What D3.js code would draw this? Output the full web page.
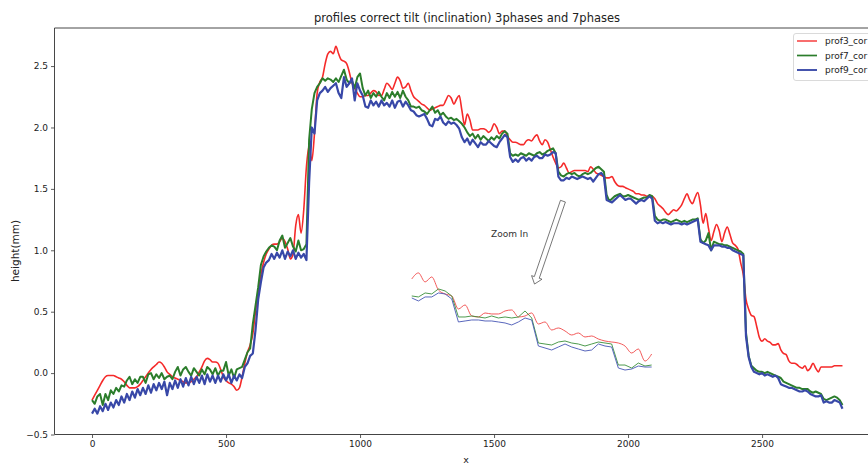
<!DOCTYPE html>
<html><head><meta charset="utf-8">
<script src="https://cdn.jsdelivr.net/npm/d3@7/dist/d3.min.js"></script>
<style>body{margin:0;background:#fff}svg{display:block}text{font-family:"DejaVu Sans",sans-serif}</style>
</head><body><svg id="c" width="868" height="464"></svg>
<script>
// ---------------- data ----------------
const xStep = 10; // sample spacing along x
const prof3 = [
-0.22,-0.18,-0.14,-0.10,-0.06,-0.03,-0.02,-0.02,-0.02,-0.03,
-0.04,-0.05,-0.07,-0.10,-0.12,-0.12,-0.12,-0.11,-0.09,-0.06,
-0.03,0.00,0.03,0.05,0.07,0.09,0.08,0.05,0.01,-0.01,
-0.03,-0.04,-0.05,-0.06,-0.07,-0.08,-0.08,-0.07,-0.05,-0.03,
0.01,0.05,0.10,0.12,0.11,0.09,0.09,0.08,0.03,-0.03,
-0.06,-0.08,-0.09,-0.11,-0.14,-0.12,-0.03,0.08,0.17,0.23,
0.32,0.50,0.65,0.80,0.90,0.97,1.01,1.04,1.05,1.05,
1.07,1.10,1.07,1.01,0.93,0.97,1.20,1.29,1.14,1.33,
1.68,1.85,1.73,1.95,2.28,2.37,2.41,2.52,2.60,2.62,
2.60,2.66,2.60,2.55,2.54,2.52,2.45,2.36,2.32,2.28,
2.25,2.25,2.26,2.26,2.28,2.30,2.29,2.26,2.26,2.31,
2.36,2.34,2.31,2.36,2.41,2.38,2.32,2.33,2.36,2.30,
2.25,2.23,2.21,2.19,2.18,2.16,2.14,2.15,2.16,2.17,
2.18,2.18,2.22,2.26,2.24,2.19,2.23,2.26,2.14,2.02,
2.11,2.06,1.98,1.98,1.98,1.99,1.99,1.98,1.96,1.98,
2.03,2.00,1.95,1.97,1.97,1.93,1.90,1.88,1.88,1.87,
1.86,1.86,1.89,1.90,1.89,1.92,1.94,1.89,1.86,1.90,
1.88,1.82,1.76,1.71,1.67,1.68,1.71,1.67,1.63,1.64,
1.65,1.65,1.65,1.65,1.65,1.64,1.68,1.66,1.63,1.62,
1.61,1.60,1.59,1.59,1.60,1.56,1.53,1.52,1.52,1.51,
1.50,1.49,1.48,1.46,1.46,1.45,1.45,1.44,1.44,1.44,
1.42,1.38,1.36,1.34,1.31,1.29,1.31,1.33,1.32,1.34,
1.37,1.42,1.46,1.41,1.38,1.43,1.47,1.37,1.22,1.30,
1.18,1.08,1.15,1.21,1.16,1.07,1.14,1.19,1.13,1.06,
1.04,1.01,0.90,0.80,0.60,0.52,0.47,0.46,0.38,0.29,
0.26,0.28,0.26,0.25,0.23,0.23,0.24,0.19,0.16,0.15,
0.10,0.08,0.08,0.07,0.05,0.04,0.06,0.02,0.04,0.08,
0.04,0.01,0.05,0.05,0.05,0.05,0.05,0.06,0.06,0.06,
0.06];
const prof7 = [
-0.22,-0.25,-0.19,-0.17,-0.26,-0.17,-0.22,-0.14,-0.17,-0.12,
-0.15,-0.10,-0.11,-0.06,-0.03,-0.09,-0.05,-0.08,-0.03,-0.03,
-0.08,-0.01,0.00,-0.05,-0.01,-0.04,0.00,-0.05,-0.03,-0.02,
-0.05,0.01,0.05,-0.02,0.03,0.05,0.01,-0.02,0.04,0.01,
-0.02,0.03,-0.01,0.05,0.03,-0.01,0.04,-0.02,0.02,0.02,
0.09,-0.02,0.03,-0.04,0.03,0.04,0.05,0.11,0.17,0.20,
0.40,0.55,0.70,0.88,0.95,0.99,1.02,1.04,1.03,1.00,
1.08,1.12,1.02,1.06,1.10,1.03,0.99,1.08,1.00,1.01,
1.05,1.90,2.15,2.28,2.33,2.36,2.40,2.38,2.40,2.39,
2.37,2.40,2.37,2.42,2.47,2.39,2.36,2.38,2.32,2.41,
2.44,2.32,2.26,2.30,2.24,2.28,2.25,2.29,2.25,2.22,
2.28,2.24,2.29,2.25,2.29,2.24,2.30,2.25,2.22,2.17,
2.17,2.16,2.17,2.14,2.13,2.11,2.14,2.17,2.12,2.14,
2.10,2.12,2.09,2.07,2.08,2.06,2.07,2.05,2.03,2.00,
1.96,1.93,1.95,1.91,1.94,1.90,1.93,1.91,1.89,1.92,
1.90,1.93,1.91,1.95,1.97,1.95,1.79,1.77,1.78,1.77,
1.79,1.78,1.77,1.79,1.78,1.77,1.79,1.80,1.78,1.79,
1.81,1.82,1.83,1.79,1.64,1.61,1.60,1.62,1.63,1.62,
1.63,1.61,1.60,1.62,1.63,1.62,1.63,1.65,1.67,1.68,
1.66,1.64,1.45,1.40,1.42,1.44,1.45,1.46,1.44,1.44,
1.45,1.44,1.43,1.42,1.41,1.42,1.43,1.43,1.45,1.44,
1.28,1.25,1.24,1.25,1.25,1.24,1.23,1.24,1.25,1.24,
1.23,1.24,1.23,1.24,1.25,1.25,1.26,1.09,1.06,1.08,
1.14,1.00,1.07,1.06,1.05,1.05,1.04,1.04,1.03,1.02,
1.01,1.00,0.99,0.97,0.33,0.14,0.06,0.04,0.02,0.01,
0.01,0.00,0.01,0.00,-0.01,-0.02,-0.03,-0.04,-0.07,-0.08,
-0.09,-0.10,-0.11,-0.12,-0.12,-0.13,-0.13,-0.13,-0.15,-0.16,
-0.15,-0.16,-0.17,-0.21,-0.22,-0.21,-0.20,-0.19,-0.20,-0.22,
-0.26];
const prof9 = [
-0.33,-0.29,-0.33,-0.27,-0.31,-0.25,-0.30,-0.24,-0.28,-0.22,
-0.26,-0.19,-0.24,-0.17,-0.22,-0.15,-0.20,-0.13,-0.18,-0.12,
-0.17,-0.10,-0.16,-0.09,-0.14,-0.08,-0.13,-0.07,-0.18,-0.08,
-0.13,-0.06,-0.12,-0.05,-0.11,-0.04,-0.10,-0.03,-0.09,-0.03,
-0.08,-0.02,-0.09,-0.01,-0.07,-0.02,-0.08,-0.02,-0.07,-0.01,
-0.06,-0.01,-0.08,-0.02,-0.06,-0.01,-0.04,0.05,0.08,0.14,
0.16,0.35,0.60,0.74,0.86,0.90,0.92,0.97,0.93,0.98,
0.94,1.00,0.93,0.99,0.95,1.00,0.93,0.98,0.94,0.97,
0.92,1.55,2.00,1.95,2.22,2.28,2.30,2.33,2.29,2.32,
2.34,2.36,2.28,2.24,2.41,2.33,2.36,2.40,2.22,2.36,
2.30,2.26,2.17,2.16,2.22,2.18,2.21,2.17,2.22,2.18,
2.20,2.17,2.22,2.16,2.21,2.22,2.17,2.21,2.18,2.14,
2.13,2.10,2.09,2.10,2.11,2.07,2.02,2.01,2.07,2.06,
2.09,2.04,2.02,2.05,2.03,2.04,2.02,1.99,1.92,1.88,
1.91,1.86,1.90,1.87,1.84,1.88,1.86,1.86,1.89,1.87,
1.85,1.84,1.88,1.91,1.94,1.92,1.76,1.72,1.74,1.72,
1.75,1.76,1.73,1.75,1.73,1.76,1.77,1.75,1.75,1.78,
1.77,1.78,1.80,1.79,1.60,1.57,1.57,1.59,1.58,1.60,
1.59,1.58,1.59,1.60,1.59,1.58,1.59,1.56,1.59,1.62,
1.63,1.60,1.41,1.40,1.39,1.41,1.43,1.45,1.43,1.41,
1.42,1.42,1.40,1.38,1.40,1.41,1.40,1.42,1.44,1.42,
1.24,1.22,1.23,1.22,1.23,1.22,1.21,1.22,1.22,1.22,
1.21,1.22,1.21,1.22,1.23,1.24,1.25,1.07,1.06,1.05,
1.04,1.00,1.04,1.04,1.04,1.03,1.03,1.02,1.02,1.00,
0.99,0.98,0.97,0.96,0.30,0.13,0.05,0.01,0.00,-0.01,
0.00,-0.02,-0.01,-0.02,-0.03,-0.02,-0.04,-0.09,-0.10,-0.11,
-0.12,-0.12,-0.13,-0.14,-0.15,-0.15,-0.14,-0.15,-0.17,-0.18,
-0.19,-0.19,-0.18,-0.24,-0.23,-0.24,-0.24,-0.22,-0.23,-0.24,
-0.29];
const seriesNames = ["prof3_cor", "prof7_cor", "prof9_cor"];
const xTicks = [0, 500, 1000, 1500, 2000, 2500];
const yTicks = [-0.5, 0.0, 0.5, 1.0, 1.5, 2.0, 2.5];
const titleText = "profiles correct tilt (inclination) 3phases and 7phases";
const xLabel = "x", yLabel = "height(mm)";
// "Zoom In" sketch (relative heights, one value per sample)
const insetRed   = [0.91,0.97,0.88,0.93,0.80,0.76,0.74,0.61,0.65,0.54,0.53,0.57,0.56,0.56,0.59,0.60,0.53,0.54,0.57,0.46,0.48,0.40,0.42,0.39,0.35,0.37,0.33,0.34,0.31,0.29,0.28,0.27,0.24,0.17,0.21,0.09,0.16];
const insetGreen = [0.74,0.73,0.77,0.76,0.81,0.79,0.74,0.53,0.53,0.54,0.53,0.52,0.54,0.52,0.53,0.52,0.53,0.59,0.52,0.27,0.26,0.25,0.28,0.29,0.27,0.26,0.24,0.26,0.28,0.27,0.26,0.05,0.05,0.02,0.07,0.04,0.05];
const insetBlue  = [0.72,0.69,0.73,0.73,0.77,0.76,0.71,0.48,0.49,0.50,0.50,0.49,0.49,0.48,0.47,0.45,0.48,0.52,0.50,0.24,0.22,0.20,0.23,0.26,0.23,0.21,0.19,0.20,0.26,0.24,0.23,0.02,0.00,0.01,0.04,0.03,0.03];
const annText = "Zoom In";
const annTextPos = [1558, 1.13];
const arrowFrom = [1757, 1.40], arrowTo = [1651, 0.725];
const insetXSpan = [1193, 2088], insetYSpan = [0.025, 0.84];

// ---------------- drawing ----------------
const colors = ["#f52a2a", "#2b7d2b", "#3848a8"];
const widths = [1.6, 2.0, 2.2];
const curves = [d3.curveMonotoneX, d3.curveLinear, d3.curveLinear];
const svg = d3.select("#c");
const W = 868, H = 464;
const x = d3.scaleLinear().domain([-140, 2940]).range([54.5, 880]);
const y = d3.scaleLinear().domain([-0.5, 2.81]).range([434.5, 28]);

svg.append("rect").attr("width", W).attr("height", H).attr("fill", "#fff");

const clip = svg.append("defs").append("clipPath").attr("id", "pc");
clip.append("rect").attr("x", 54.5).attr("y", 28).attr("width", 880 - 54.5).attr("height", 434.5 - 28);

const plot = svg.append("g").attr("clip-path", "url(#pc)");
[prof3, prof7, prof9].forEach((s, k) => {
  const line = d3.line().x((d, i) => x(i * xStep)).y(d => y(d)).curve(curves[k]);
  plot.append("path").datum(s).attr("d", line).attr("fill", "none")
    .attr("stroke", colors[k]).attr("stroke-width", widths[k]).attr("stroke-linejoin", "round");
});

// inset sketch
const ix = d3.scaleLinear().domain([0, insetRed.length - 1]).range([x(insetXSpan[0]), x(insetXSpan[1])]);
const iy = d3.scaleLinear().domain([0, 1]).range([y(insetYSpan[0]), y(insetYSpan[1])]);
const insetColors = ["#f04848", "#3a8f3a", "#4656b4"];
[insetRed, insetGreen, insetBlue].forEach((s, k) => {
  const iline = d3.line().x((d, i) => ix(i)).y(d => iy(d)).curve(k === 0 ? d3.curveMonotoneX : d3.curveLinear);
  plot.append("path").datum(s).attr("d", iline).attr("fill", "none")
    .attr("stroke", insetColors[k]).attr("stroke-width", 0.9);
});

// annotation
plot.append("text").attr("x", x(annTextPos[0])).attr("y", y(annTextPos[1]))
  .attr("text-anchor", "middle").attr("dominant-baseline", "central")
  .attr("font-size", 9).attr("fill", "#333").text(annText);
(function () {
  const x0 = x(arrowFrom[0]), y0 = y(arrowFrom[1]), x1 = x(arrowTo[0]), y1 = y(arrowTo[1]);
  const dx = x1 - x0, dy = y1 - y0, L = Math.hypot(dx, dy);
  const ux = dx / L, uy = dy / L, px = -uy, py = ux;
  const sw = 2.6, hw = 5.5, hl = 7;
  const bx = x1 - ux * hl, by = y1 - uy * hl;
  const pts = [
    [x0 + px * sw, y0 + py * sw], [bx + px * sw, by + py * sw], [bx + px * hw, by + py * hw],
    [x1, y1], [bx - px * hw, by - py * hw], [bx - px * sw, by - py * sw], [x0 - px * sw, y0 - py * sw]
  ];
  plot.append("path").attr("d", "M" + pts.map(p => p.join(",")).join("L") + "Z")
    .attr("fill", "#fff").attr("stroke", "#555").attr("stroke-width", 0.8);
})();

// axes
const gx = svg.append("g").attr("transform", "translate(0,434.5)")
  .call(d3.axisBottom(x).tickValues(xTicks).tickFormat(d3.format("d")).tickSize(3.5).tickPadding(3));
const gy = svg.append("g").attr("transform", "translate(54.5,0)")
  .call(d3.axisLeft(y).tickValues(yTicks).tickFormat(d3.format(".1f")).tickSize(3.5).tickPadding(3));
[gx, gy].forEach(g => {
  g.select(".domain").remove();
  g.selectAll(".tick line").attr("stroke", "#333").attr("stroke-width", 0.8);
  g.selectAll(".tick text").attr("font-size", 9).attr("fill", "#222").attr("font-family", "DejaVu Sans");
});
// spines
svg.append("line").attr("x1", 54.5).attr("x2", 54.5).attr("y1", 28).attr("y2", 434.5).attr("stroke", "#333").attr("stroke-width", 0.9);
svg.append("line").attr("x1", 54.5).attr("x2", 880).attr("y1", 434.5).attr("y2", 434.5).attr("stroke", "#444").attr("stroke-width", 1.2);
svg.append("line").attr("x1", 54.5).attr("x2", 880).attr("y1", 28).attr("y2", 28).attr("stroke", "#333").attr("stroke-width", 0.9);

// labels
svg.append("text").attr("x", 467).attr("y", 18).attr("text-anchor", "middle").attr("dominant-baseline", "central")
  .attr("font-size", 11.5).attr("fill", "#222").text(titleText);
svg.append("text").attr("x", 466).attr("y", 459).attr("text-anchor", "middle").attr("dominant-baseline", "central")
  .attr("font-size", 9.5).attr("fill", "#222").text(xLabel);
svg.append("text").attr("transform", "translate(15,251) rotate(-90)").attr("text-anchor", "middle")
  .attr("dominant-baseline", "central").attr("font-size", 10.5).attr("fill", "#222").text(yLabel);

// legend
const lg = svg.append("g");
lg.append("rect").attr("x", 793.5).attr("y", 33.5).attr("width", 120).attr("height", 47).attr("rx", 2.5)
  .attr("fill", "#fff").attr("fill-opacity", 0.8).attr("stroke", "#d0d0d0").attr("stroke-width", 0.8);
seriesNames.forEach((n, k) => {
  const yy = 41 + k * 14.5;
  lg.append("line").attr("x1", 797).attr("x2", 817).attr("y1", yy).attr("y2", yy)
    .attr("stroke", colors[k]).attr("stroke-width", widths[k] * 0.85);
  lg.append("text").attr("x", 825).attr("y", yy).attr("dominant-baseline", "central")
    .attr("font-size", 9).attr("fill", "#222").text(n);
});
</script></body></html>
